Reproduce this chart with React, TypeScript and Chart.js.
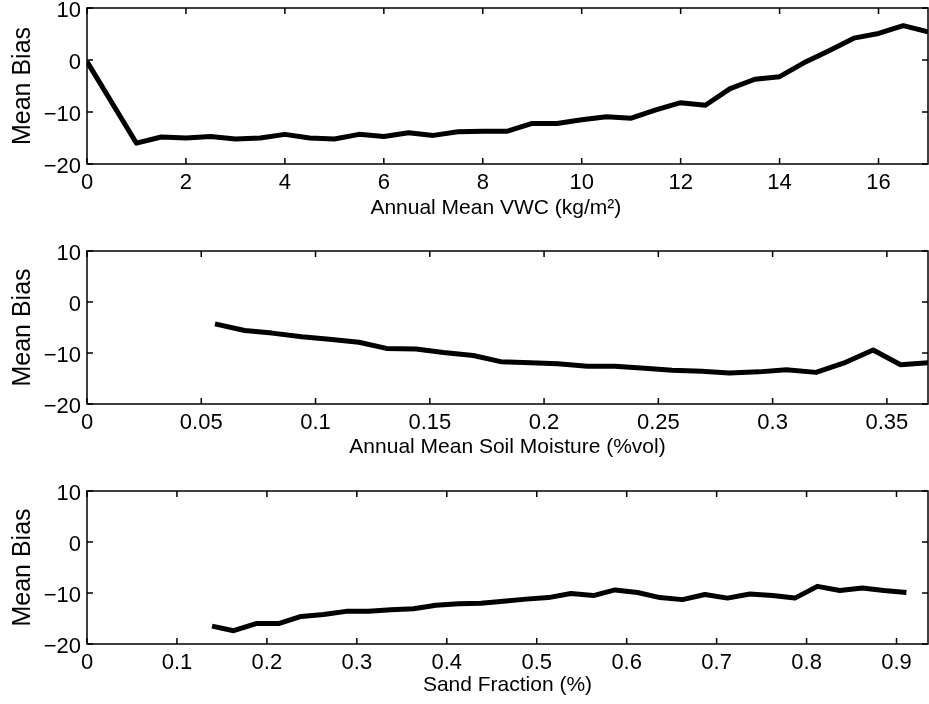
import React, { useEffect, useRef } from "react";
import { Chart, registerables } from "chart.js";

Chart.register(...registerables);

// ---- Data ----
const vwcX = [0, 1, 1.5, 2, 2.5, 3, 3.5, 4, 4.5, 5, 5.5, 6, 6.5, 7, 7.5, 8, 8.5, 9, 9.5, 10, 10.5, 11, 11.5, 12, 12.5, 13, 13.5, 14, 14.5, 15, 15.5, 16, 16.5, 17];
const vwcBias = [-0.3, -16.0, -14.8, -15.0, -14.7, -15.2, -15.0, -14.3, -15.0, -15.2, -14.3, -14.7, -14.0, -14.5, -13.8, -13.7, -13.7, -12.2, -12.2, -11.5, -10.9, -11.2, -9.6, -8.2, -8.7, -5.5, -3.7, -3.2, -0.5, 1.8, 4.2, 5.1, 6.6, 5.4];

const smX = [0.056, 0.069, 0.081, 0.094, 0.106, 0.119, 0.131, 0.144, 0.156, 0.169, 0.181, 0.194, 0.206, 0.219, 0.231, 0.244, 0.256, 0.269, 0.281, 0.294, 0.306, 0.319, 0.331, 0.344, 0.356, 0.368];
const smBias = [-4.3, -5.6, -6.1, -6.8, -7.3, -7.9, -9.1, -9.2, -9.9, -10.5, -11.7, -11.9, -12.1, -12.6, -12.6, -13.0, -13.4, -13.6, -13.9, -13.7, -13.3, -13.8, -12.0, -9.4, -12.3, -11.9];

const sandX = [0.139, 0.163, 0.188, 0.213, 0.238, 0.263, 0.288, 0.313, 0.338, 0.363, 0.388, 0.413, 0.438, 0.463, 0.488, 0.513, 0.538, 0.563, 0.587, 0.612, 0.637, 0.662, 0.687, 0.712, 0.737, 0.762, 0.787, 0.812, 0.837, 0.862, 0.886, 0.911];
const sandBias = [-16.5, -17.4, -16.0, -16.0, -14.6, -14.2, -13.6, -13.6, -13.3, -13.1, -12.4, -12.1, -12.0, -11.6, -11.2, -10.9, -10.1, -10.5, -9.4, -9.9, -10.9, -11.3, -10.3, -11.0, -10.2, -10.5, -11.0, -8.7, -9.5, -9.0, -9.5, -9.9];

const yTitle = "Mean Bias";
const xTitles = ["Annual Mean VWC (kg/m\u00B2)    ", "Annual Mean Soil Moisture (%vol)", "Sand Fraction (%)"];
const yMin = -20;
const yMax = 10;
const yStep = 10;

const FONT = "'Liberation Sans', Arial, Helvetica, sans-serif";

const boxPlugin = {
  id: "matlabBox",
  afterDraw(chart: any) {
    const { ctx, chartArea } = chart;
    const { left, right, top, bottom } = chartArea;
    const xs = chart.scales.x;
    const ys = chart.scales.y;
    const tl = 6;
    ctx.save();
    ctx.strokeStyle = "#000";
    ctx.lineWidth = 1.5;
    ctx.strokeRect(left, top, right - left, bottom - top);
    ctx.beginPath();
    xs.ticks.forEach((t: any) => {
      const px = xs.getPixelForValue(t.value);
      ctx.moveTo(px, bottom);
      ctx.lineTo(px, bottom - tl);
      ctx.moveTo(px, top);
      ctx.lineTo(px, top + tl);
    });
    ys.ticks.forEach((t: any) => {
      const py = ys.getPixelForValue(t.value);
      ctx.moveTo(left, py);
      ctx.lineTo(left + tl, py);
      ctx.moveTo(right, py);
      ctx.lineTo(right - tl, py);
    });
    ctx.stroke();
    ctx.restore();
  },
};

type PanelProps = {
  top: number;
  height: number;
  plotTop: number;
  plotBottom: number;
  xs: number[];
  ys: number[];
  xMax: number;
  xStep: number;
  xTitle: string;
  titlePadBottom: number;
  tickPad: number;
};

function fmt(v: number) {
  const r = Math.round(v * 1000) / 1000;
  const s = String(Math.abs(r));
  return r < 0 ? "\u2212" + s : s;
}

function Panel(p: PanelProps) {
  const ref = useRef<HTMLCanvasElement | null>(null);
  useEffect(() => {
    if (!ref.current) return;
    const axisH = p.height - p.plotBottom;
    const chart = new Chart(ref.current, {
      type: "line",
      data: {
        datasets: [
          {
            data: p.xs.map((x, i) => ({ x, y: p.ys[i] })),
            borderColor: "#000",
            borderWidth: 5,
            pointRadius: 0,
            tension: 0,
            fill: false,
            borderJoinStyle: "round",
            borderCapStyle: "butt",
          },
        ],
      },
      options: {
        responsive: false,
        animation: false,
        events: [],
        layout: { padding: { top: p.plotTop, right: 1, left: 0, bottom: 0 } },
        plugins: { legend: { display: false }, tooltip: { enabled: false } },
        scales: {
          x: {
            type: "linear",
            min: 0,
            max: p.xMax,
            grid: { display: false, drawTicks: false },
            border: { display: false },
            ticks: {
              stepSize: p.xStep,
              includeBounds: false,
              autoSkip: false,
              maxRotation: 0,
              padding: p.tickPad,
              color: "#000",
              font: { family: FONT, size: 22 },
              callback: (v: any) => fmt(Number(v)),
            },
            title: {
              display: true,
              text: p.xTitle,
              color: "#000",
              font: { family: FONT, size: 21 },
              padding: { top: 0, bottom: p.titlePadBottom },
            },
            afterFit: (s: any) => {
              s.height = axisH;
              s.paddingLeft = 0;
              s.paddingRight = 0;
            },
          },
          y: {
            type: "linear",
            min: yMin,
            max: yMax,
            grid: { display: false, drawTicks: false },
            border: { display: false },
            ticks: {
              stepSize: yStep,
              includeBounds: false,
              padding: 6,
              labelOffset: 3,
              color: "#000",
              font: { family: FONT, size: 22 },
              callback: (v: any) => fmt(Number(v)),
            },
            title: {
              display: true,
              text: yTitle,
              color: "#000",
              font: { family: FONT, size: 25 },
              padding: { top: 8, bottom: 0 },
            },
            afterFit: (s: any) => {
              s.width = 87;
              s.paddingTop = 0;
              s.paddingBottom = 0;
            },
          },
        },
      },
      plugins: [boxPlugin],
    } as any);
    return () => chart.destroy();
  }, []);
  return (
    <div style={{ position: "absolute", left: 0, top: p.top, width: 929, height: p.height }}>
      <canvas ref={ref} width={929} height={p.height} style={{ display: "block" }} />
    </div>
  );
}

export default function App() {
  return (
    <div style={{ position: "absolute", left: 0, top: 0, width: 929, height: 704, background: "#fff" }}>
      <Panel top={0} height={230} plotTop={8} plotBottom={164} xs={vwcX} ys={vwcBias} xMax={17} xStep={2} xTitle={xTitles[0]} titlePadBottom={9} tickPad={6} />
      <Panel top={230} height={235} plotTop={21} plotBottom={174} xs={smX} ys={smBias} xMax={0.368} xStep={0.05} xTitle={xTitles[1]} titlePadBottom={5} tickPad={6} />
      <Panel top={465} height={239} plotTop={26} plotBottom={179} xs={sandX} ys={sandBias} xMax={0.935} xStep={0.1} xTitle={xTitles[2]} titlePadBottom={6} tickPad={6} />
    </div>
  );
}
